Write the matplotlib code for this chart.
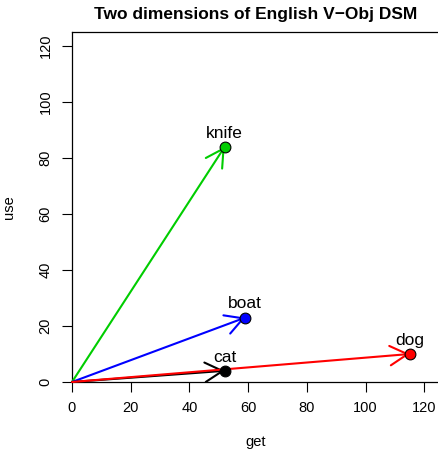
import numpy as np
import matplotlib
matplotlib.use('Agg')
import matplotlib.pyplot as plt

plt.rcParams['font.family'] = ['Liberation Sans', 'DejaVu Sans']

# data: two co-occurrence dimensions of the V-Obj DSM
words = ['knife', 'boat', 'cat', 'dog']
get_vals = [52, 59, 52, 115]
use_vals = [84, 23, 4, 10]
colors = ['#00CD00', '#0000FF', '#000000', '#FF0000']

fig = plt.figure(figsize=(4.38, 4.49), dpi=100)
ax = fig.add_axes([72 / 438, 67 / 449, (439 - 72) / 438, (382 - 32) / 449])

ax.set_xlim(0, 125)
ax.set_ylim(0, 125)

for w, x, y, c in zip(words, get_vals, use_vals, colors):
    ax.annotate('', xy=(x, y), xytext=(0, 0),
                arrowprops=dict(arrowstyle='->,head_length=0.9,head_width=0.5',
                                color=c, lw=1.5, shrinkA=0, shrinkB=0,
                                mutation_scale=14))
for w, x, y, c in zip(words, get_vals, use_vals, colors):
    ax.scatter([x], [y], s=60, color=c, edgecolors='black', linewidths=0.8, zorder=5)
    ax.text(x, y + 2.2, w, ha='center', va='bottom', fontsize=12.5)

ax.set_xticks(np.arange(0, 121, 20))
ax.set_yticks(np.arange(0, 121, 20))
ax.tick_params(direction='out', length=7, width=0.8, labelsize=10.5, pad=7)
for lab in ax.get_yticklabels():
    lab.set_rotation(90)
    lab.set_va('center')
ax.spines['right'].set_visible(False)
for s in ['top', 'left', 'bottom']:
    ax.spines[s].set_linewidth(0.9)

ax.set_xlabel('get', fontsize=10.5, labelpad=14)
ax.set_ylabel('use', fontsize=10.5, labelpad=16)
ax.set_title('Two dimensions of English V\u2212Obj DSM', fontsize=12.5, fontweight='bold', pad=9)

fig.savefig('out.png', dpi=100)
